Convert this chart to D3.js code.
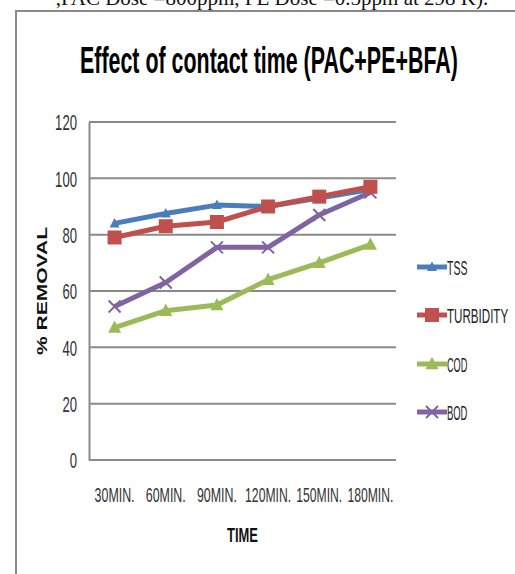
<!DOCTYPE html>
<html>
<head>
<meta charset="utf-8">
<script src="https://cdn.jsdelivr.net/npm/d3@7"></script>
<style>
  html, body { margin: 0; padding: 0; background: #fff; }
  svg { display: block; }
</style>
</head>
<body>
<svg id="chart" width="515" height="574"></svg>
<script>
// Contact time categories and % removal per parameter
const times = ["30MIN.", "60MIN.", "90MIN.", "120MIN.", "150MIN.", "180MIN."];
const tss = [84, 87.5, 90.5, 90, 93, 96];
const turbidity = [79, 83, 84.5, 90, 93.5, 97];
const cod = [47, 53, 55, 64, 70, 76.5];
const bod = [54.5, 63, 75.5, 75.5, 87, 95];
const yTicks = [0, 20, 40, 60, 80, 100, 120];
const seriesNames = ["TSS", "TURBIDITY", "COD", "BOD"];

const series = [
  { name: seriesNames[0], values: tss, color: "#4a7ebb", marker: "triangle", size: 10 },
  { name: seriesNames[1], values: turbidity, color: "#c0504d", marker: "square", size: 14 },
  { name: seriesNames[2], values: cod, color: "#9bbb59", marker: "triangle", size: 13 },
  { name: seriesNames[3], values: bod, color: "#8064a2", marker: "x", size: 12 }
];

const svg = d3.select("#chart");
const narrow = "'Liberation Sans Narrow', 'Liberation Sans', Arial, sans-serif";

// Squeeze a text element horizontally to a target width, anchored at (x0, y0)
function fitWidth(sel, x0, y0, width) {
  const w = sel.node().getComputedTextLength();
  sel.attr("transform", `translate(${x0},${y0}) scale(${width / w},1)`);
}

// Caption line above the figure frame (partly cropped)
svg.append("text")
  .attr("x", 272).attr("y", 5)
  .attr("text-anchor", "middle")
  .attr("font-family", "'Liberation Serif', 'Times New Roman', serif")
  .attr("font-size", 21)
  .attr("fill", "#111")
  .text(",PAC Dose =800ppm, PE Dose =0.5ppm  at 298 K).");

// Figure frame
svg.append("path")
  .attr("d", "M16,575 L16,11 L516,11")
  .attr("fill", "none")
  .attr("stroke", "#8a8a8a")
  .attr("stroke-width", 2);

// Title
const title = svg.append("text")
  .attr("font-family", narrow)
  .attr("font-weight", "bold")
  .attr("font-size", 37)
  .attr("fill", "#000")
  .text("Effect of contact time (PAC+PE+BFA)");
fitWidth(title, 80, 73, 378);

const plot = { left: 89, right: 396, top: 122, bottom: 460 };

const x = d3.scaleBand().domain(times).range([plot.left, plot.right]);
const y = d3.scaleLinear().domain([0, 120]).range([plot.bottom, plot.top]);

// Horizontal gridlines
svg.append("g")
  .selectAll("line")
  .data(yTicks)
  .join("line")
  .attr("x1", plot.left).attr("x2", plot.right)
  .attr("y1", d => y(d)).attr("y2", d => y(d))
  .attr("stroke", "#8a8a8a")
  .attr("stroke-width", 2);

// Y axis
const yPad = 12;
const yAxis = svg.append("g")
  .attr("transform", `translate(${plot.left},0)`)
  .call(d3.axisLeft(y).tickValues(yTicks).tickSize(0).tickPadding(yPad));
yAxis.select(".domain").attr("stroke", "#8a8a8a").attr("stroke-width", 2);
yAxis.selectAll("text")
  .attr("font-family", narrow)
  .attr("font-size", 22)
  .attr("fill", "#333")
  .attr("dy", "0.36em")
  .each(function (d) {
    const t = d3.select(this);
    const sx = (String(d).length * 7.3) / this.getComputedTextLength();
    t.attr("x", -yPad / sx).attr("transform", `scale(${sx},1)`);
  });

// X axis labels
const xAxis = svg.append("g")
  .attr("transform", `translate(0,${plot.bottom})`)
  .call(d3.axisBottom(x).tickSize(0).tickPadding(42));
xAxis.select(".domain").remove();
xAxis.selectAll("text")
  .attr("font-family", narrow)
  .attr("font-size", 20)
  .attr("fill", "#333")
  .attr("dy", "0")
  .each(function (d) {
    const sx = (d.length === 6 ? 40 : 46) / this.getComputedTextLength();
    d3.select(this).attr("transform", `scale(${sx},1)`);
  });

// Axis titles
const xTitle = svg.append("text")
  .attr("text-anchor", "middle")
  .attr("font-family", narrow)
  .attr("font-weight", "bold")
  .attr("font-size", 20)
  .attr("fill", "#111")
  .text("TIME");
fitWidth(xTitle, (plot.left + plot.right) / 2, 542, 31);

svg.append("text")
  .attr("transform", `translate(47,${(plot.top + plot.bottom) / 2}) rotate(-90)`)
  .attr("text-anchor", "middle")
  .attr("font-family", "'Liberation Sans', Arial, sans-serif")
  .attr("font-weight", "bold")
  .attr("font-size", 14)
  .attr("textLength", 128)
  .attr("lengthAdjust", "spacingAndGlyphs")
  .attr("fill", "#111")
  .text("% REMOVAL");

// Marker drawing
function drawMarker(sel, s) {
  const r = s.size / 2;
  if (s.marker === "triangle") {
    sel.append("path")
      .attr("d", `M0,${-r * 1.1} L${r},${r * 0.8} L${-r},${r * 0.8} Z`)
      .attr("fill", s.color);
  } else if (s.marker === "square") {
    sel.append("rect")
      .attr("x", -r).attr("y", -r).attr("width", s.size).attr("height", s.size)
      .attr("fill", s.color);
  } else {
    sel.append("path")
      .attr("d", `M${-r},${-r} L${r},${r} M${-r},${r} L${r},${-r}`)
      .attr("stroke", s.color).attr("stroke-width", 2).attr("fill", "none");
  }
}

const line = d3.line()
  .x((d, i) => x(times[i]) + x.bandwidth() / 2)
  .y(d => y(d));

// Draw series; BOD first, then COD, TSS, TURBIDITY on top
const drawOrder = [3, 2, 0, 1];
drawOrder.forEach(k => {
  const s = series[k];
  const g = svg.append("g");
  g.append("path")
    .attr("d", line(s.values))
    .attr("fill", "none")
    .attr("stroke", s.color)
    .attr("stroke-width", 5)
    .attr("stroke-linejoin", "round");
  s.values.forEach((v, i) => {
    const m = g.append("g")
      .attr("transform", `translate(${x(times[i]) + x.bandwidth() / 2},${y(v)})`);
    drawMarker(m, s);
  });
});

// Legend
const legendY = [267, 315, 364, 412];
series.forEach((s, i) => {
  const g = svg.append("g").attr("transform", `translate(0,${legendY[i]})`);
  g.append("line")
    .attr("x1", 417).attr("x2", 447)
    .attr("stroke", s.color).attr("stroke-width", 5);
  const m = g.append("g").attr("transform", "translate(432,0)");
  drawMarker(m, s);
  const t = g.append("text")
    .attr("dy", "0.36em")
    .attr("font-family", narrow)
    .attr("font-size", 21)
    .attr("fill", "#222")
    .text(s.name);
  fitWidth(t, 447, 0, s.name.length * 6.8);
});
</script>
</body>
</html>
